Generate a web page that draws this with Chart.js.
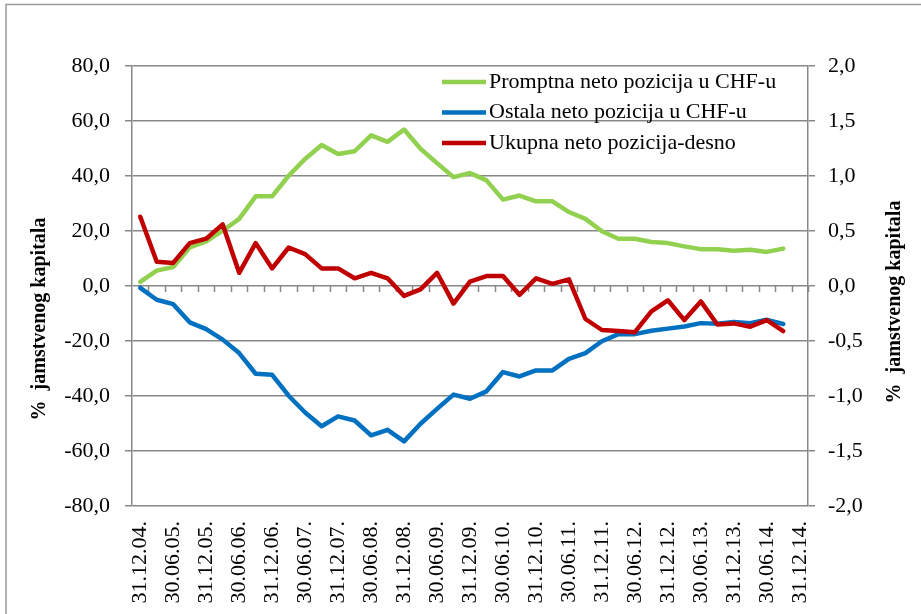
<!DOCTYPE html>
<html>
<head>
<meta charset="utf-8">
<script src="https://cdn.jsdelivr.net/npm/chart.js@4"></script>
<style>
  html, body { margin: 0; padding: 0; background: #fff; }
  #wrap { width: 921px; height: 614px; }
</style>
</head>
<body>
<div id="wrap"><canvas id="chartCHF" width="921" height="614"></canvas></div>
<script>
// Quarter-end dates (only every second one is printed on the axis)
const quarters = [
    '31.12.04.', '31.03.05.', '30.06.05.', '30.09.05.', '31.12.05.', '31.03.06.', '30.06.06.', '30.09.06.',
    '31.12.06.', '31.03.07.', '30.06.07.', '30.09.07.', '31.12.07.', '31.03.08.', '30.06.08.', '30.09.08.',
    '31.12.08.', '31.03.09.', '30.06.09.', '30.09.09.', '31.12.09.', '31.03.10.', '30.06.10.', '30.09.10.',
    '31.12.10.', '31.03.11.', '30.06.11.', '30.09.11.', '31.12.11.', '31.03.12.', '30.06.12.', '30.09.12.',
    '31.12.12.', '31.03.13.', '30.06.13.', '30.09.13.', '31.12.13.', '31.03.14.', '30.06.14.', '30.09.14.',
    '31.12.14.'
];

// Series names
const seriesNames = [
    'Promptna neto pozicija u CHF-u',
    'Ostala neto pozicija u CHF-u',
    'Ukupna neto pozicija-desno'
];

// Left axis values (% jamstvenog kapitala)
const promptna = [1.5, 5.6, 6.9, 14.0, 16.2, 20.1, 24.4, 32.6, 32.6, 40.1,
    46.2, 51.3, 48.0, 49.0, 54.8, 52.4, 56.9, 49.9, 44.7, 39.6,
    41.1, 38.4, 31.4, 32.9, 30.8, 30.8, 26.9, 24.4, 19.9, 17.2,
    17.2, 16.0, 15.6, 14.4, 13.4, 13.4, 12.8, 13.2, 12.4, 13.6];

const ostala = [-0.7, -5.0, -6.6, -13.2, -15.7, -19.5, -24.4, -31.9, -32.3, -39.9,
    -46.0, -51.0, -47.4, -48.9, -54.3, -52.3, -56.5, -50.1, -44.7, -39.5,
    -41.0, -38.3, -31.3, -32.9, -30.7, -30.7, -26.5, -24.4, -20.1, -17.5,
    -17.5, -16.3, -15.5, -14.7, -13.5, -13.7, -13.1, -13.5, -12.3, -13.8];

// Right axis values
const ukupna = [0.63, 0.22, 0.21, 0.39, 0.43, 0.56, 0.12, 0.39, 0.16, 0.35,
    0.29, 0.16, 0.16, 0.07, 0.12, 0.07, -0.09, -0.03, 0.12, -0.16,
    0.04, 0.09, 0.09, -0.08, 0.07, 0.02, 0.06, -0.30, -0.40, -0.41,
    -0.42, -0.23, -0.13, -0.31, -0.14, -0.35, -0.34, -0.37, -0.31, -0.41];

// Colors
const colors = {
    promptna: '#92D050', // green
    ostala: '#0070C0',   // blue
    ukupna: '#C00000',   // red
    grid: '#888888',
    frame: '#9a9a9a'
};

const axisTitle = '%  jamstvenog kapitala';
const serif = "'Liberation Serif', 'Times New Roman', serif";
Chart.defaults.font.family = serif;
Chart.defaults.color = '#000';

const fmt = v => v.toFixed(1).replace('.', ',');

// Background, category tick marks on the zero line
const axisMarks = {
    id: 'axisMarks',
    beforeDraw(chart) {
        const ctx = chart.ctx;
        ctx.save();
        ctx.fillStyle = '#fff';
        ctx.fillRect(0, 0, chart.width, chart.height);
        ctx.restore();
    },
    beforeDatasetsDraw(chart) {
        const ctx = chart.ctx;
        const x = chart.scales.x;
        const y0 = chart.scales.y.getPixelForValue(0);
        const half = (x.getPixelForValue(1) - x.getPixelForValue(0)) / 2;
        ctx.save();
        ctx.strokeStyle = colors.grid;
        ctx.lineWidth = 1.5;
        ctx.beginPath();
        for (let i = 0; i < quarters.length; i++) {
            const px = Math.round(x.getPixelForValue(i) + half) + 0.5;
            ctx.moveTo(px, y0);
            ctx.lineTo(px, y0 + 6);
        }
        ctx.stroke();
        ctx.restore();
    }
};

// Frame, axis titles and the legend inside the plot
const extras = {
    id: 'extras',
    afterDraw(chart) {
        const ctx = chart.ctx;
        const area = chart.chartArea;
        ctx.save();

        // outer frame
        ctx.strokeStyle = colors.frame;
        ctx.lineWidth = 1.5;
        ctx.strokeRect(6, 4.5, chart.width + 20, chart.height + 20);

        // axis titles
        ctx.fillStyle = '#000';
        ctx.font = 'bold 20px ' + serif;
        ctx.textAlign = 'center';
        ctx.textBaseline = 'middle';
        [[40, area.top + 253], [895, area.top + 236]].forEach(([x, y]) => {
            ctx.save();
            ctx.translate(x, y);
            ctx.rotate(-Math.PI / 2);
            ctx.fillText(axisTitle, 0, 0);
            ctx.restore();
        });

        // legend
        ctx.font = '22px ' + serif;
        ctx.textAlign = 'left';
        const lx = area.right - 366;
        chart.data.datasets.forEach((ds, i) => {
            const y = area.top + 16 + i * 30.5;
            ctx.strokeStyle = ds.borderColor;
            ctx.lineWidth = 4.5;
            ctx.beginPath();
            ctx.moveTo(lx, y);
            ctx.lineTo(lx + 44, y);
            ctx.stroke();
            ctx.fillText(ds.label, lx + 47, y);
        });
        ctx.restore();
    }
};

const graphArea = document.getElementById('chartCHF');

new Chart(graphArea, {
    type: 'line',
    data: {
        labels: quarters,
        datasets: [
            { label: seriesNames[0], data: promptna, borderColor: colors.promptna, yAxisID: 'y', order: 2 },
            { label: seriesNames[1], data: ostala, borderColor: colors.ostala, yAxisID: 'y', order: 1 },
            { label: seriesNames[2], data: ukupna, borderColor: colors.ukupna, yAxisID: 'y1', order: 0 }
        ]
    },
    options: {
        responsive: false,
        devicePixelRatio: 1,
        animation: false,
        layout: { padding: { top: 66, left: 0, right: 0, bottom: 0 } },
        elements: {
            line: { borderWidth: 4.5, tension: 0, borderCapStyle: 'round', borderJoinStyle: 'round', fill: false },
            point: { radius: 0, hoverRadius: 0 }
        },
        plugins: {
            legend: { display: false },
            tooltip: { enabled: false }
        },
        scales: {
            x: {
                type: 'category',
                position: 'bottom',
                offset: true,
                grid: { display: false, drawTicks: false },
                border: { display: false },
                ticks: {
                    autoSkip: false,
                    minRotation: 90,
                    maxRotation: 90,
                    padding: 15,
                    font: { size: 22 },
                    callback: (v, i) => (i % 2 === 0 ? quarters[i] : '')
                },
                afterFit: s => { s.height = 108; }
            },
            y: {
                position: 'left',
                min: -80,
                max: 80,
                ticks: { stepSize: 20, padding: 15, font: { size: 22 }, callback: fmt },
                grid: { color: colors.grid, lineWidth: 1.5, tickLength: 7 },
                border: { color: colors.grid, width: 1.5 },
                afterFit: s => { s.width = 132; }
            },
            y1: {
                position: 'right',
                min: -2,
                max: 2,
                ticks: { stepSize: 0.5, padding: 13, font: { size: 22 }, callback: fmt },
                grid: { drawOnChartArea: false, color: colors.grid, lineWidth: 1.5, tickLength: 7 },
                border: { color: colors.grid, width: 1.5 },
                afterFit: s => { s.width = 113; }
            }
        }
    },
    plugins: [axisMarks, extras]
});
</script>
</body>
</html>
